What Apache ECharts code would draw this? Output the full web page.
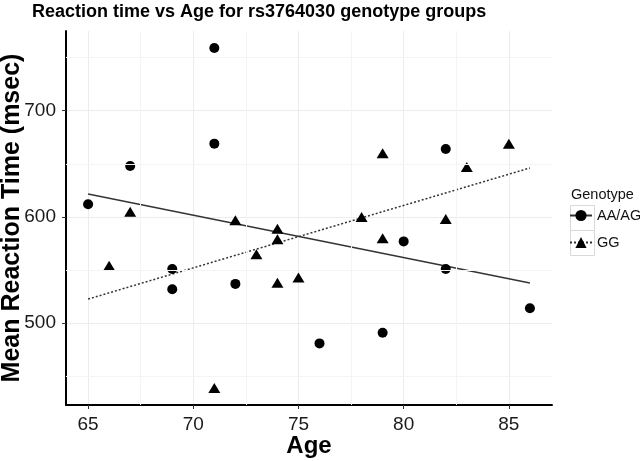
<!DOCTYPE html>
<html>
<head>
<meta charset="utf-8">
<script src="https://cdn.jsdelivr.net/npm/echarts@6/dist/echarts.min.js"></script>
<style>
  html, body { margin: 0; padding: 0; background: #fff; }
  #chart { width: 640px; height: 461px; }
</style>
</head>
<body>
<div id="chart"></div>
<script>
// AA/AG genotype group
const agesAA = [65, 67, 69, 69, 71, 71, 72, 76, 79, 80, 82, 82, 86]
const rtAA = [612, 648, 551, 532, 759, 669, 537, 481, 491, 577, 664, 551, 514]

// GG genotype group
const agesGG = [66, 67, 71, 72, 73, 74, 74, 74, 75, 78, 79, 79, 82, 83, 85]
const rtGG = [554, 605, 439, 597, 565, 589, 579, 538, 543, 600, 660, 580, 598, 647, 669]

// tick labels
const xTicks = [65, 70, 75, 80, 85]
const yTicks = [500, 600, 700]
const xMinor = [67.5, 72.5, 77.5, 82.5]
const yMinor = [450, 550, 650, 750]

const FONT = 'Liberation Sans, Arial, sans-serif'

// least squares fit over the full age range (like geom_smooth(method = lm, fullrange = TRUE))
const fitLine = (xs, ys, x0, x1) => {
  const n = xs.length
  const mx = xs.reduce((a, b) => a + b, 0) / n
  const my = ys.reduce((a, b) => a + b, 0) / n
  let sxy = 0, sxx = 0
  for (let i = 0; i < n; i++) {
    sxy += (xs[i] - mx) * (ys[i] - my)
    sxx += (xs[i] - mx) * (xs[i] - mx)
  }
  const b = sxy / sxx
  return [[x0, my + b * (x0 - mx)], [x1, my + b * (x1 - mx)]]
}

const allAges = agesAA.concat(agesGG)
const allRt = rtAA.concat(rtGG)
const ageLo = Math.min(...allAges), ageHi = Math.max(...allAges)
const rtLo = Math.min(...allRt), rtHi = Math.max(...allRt)
// ggplot style 5% expansion
const xPad = (ageHi - ageLo) * 0.05
const yPad = (rtHi - rtLo) * 0.05

const zip = (xs, ys) => xs.map((x, i) => [x, ys[i]])

const chart = echarts.init(document.getElementById('chart'))

const option = {
  animation: false,
  backgroundColor: '#fff',
  title: [
    {
      text: 'Reaction time vs Age for rs3764030 genotype groups',
      left: 32,
      top: 3,
      padding: 0,
      textStyle: { fontFamily: FONT, fontSize: 18, fontWeight: 'bold', color: '#000' }
    },
    {
      text: 'Genotype',
      left: 571,
      top: 187,
      padding: 0,
      textStyle: { fontFamily: FONT, fontSize: 14.5, fontWeight: 'normal', color: '#111' }
    }
  ],
  legend: {
    orient: 'vertical',
    left: 569,
    top: 208,
    padding: 0,
    itemWidth: 22,
    itemHeight: 14,
    itemGap: 12,
    selectedMode: false,
    data: ['AA/AG', 'GG'],
    textStyle: { fontFamily: FONT, fontSize: 14.5, color: '#111' }
  },
  graphic: [
    { type: 'rect', left: 568, top: 203, shape: { width: 24, height: 25 }, style: { fill: 'none', stroke: '#d9d9d9', lineWidth: 1 } },
    { type: 'rect', left: 568, top: 228, shape: { width: 24, height: 25 }, style: { fill: 'none', stroke: '#d9d9d9', lineWidth: 1 } }
  ],
  grid: { left: 66, right: 88, top: 31, bottom: 56, outerBoundsMode: 'none' },
  xAxis: {
    type: 'value',
    min: ageLo - xPad,
    max: ageHi + xPad,
    name: 'Age',
    nameLocation: 'middle',
    nameGap: 29,
    nameMoveOverlap: false,
    nameTextStyle: { fontFamily: FONT, fontSize: 24, fontWeight: 'bold', color: '#000' },
    axisLine: { show: true, onZero: false, lineStyle: { color: '#000', width: 2 } },
    axisTick: { show: true, length: 4, customValues: xTicks, lineStyle: { color: '#333', width: 1 } },
    axisLabel: { customValues: xTicks, margin: 10, fontFamily: FONT, fontSize: 19, color: '#1a1a1a' },
    splitLine: { show: true, lineStyle: { color: '#ececec', width: 1 } },
    minorTick: { show: false, splitNumber: 2 },
    minorSplitLine: { show: false }
  },
  yAxis: {
    type: 'value',
    min: rtLo - yPad,
    max: rtHi + yPad,
    name: 'Mean Reaction Time (msec)',
    nameLocation: 'middle',
    nameGap: 41,
    nameMoveOverlap: false,
    nameTextStyle: { fontFamily: FONT, fontSize: 25, fontWeight: 'bold', color: '#000' },
    axisLine: { show: true, onZero: false, lineStyle: { color: '#000', width: 2 } },
    axisTick: { show: true, length: 4, customValues: yTicks, lineStyle: { color: '#333', width: 1 } },
    axisLabel: { customValues: yTicks, margin: 10, fontFamily: FONT, fontSize: 19, color: '#1a1a1a' },
    splitLine: { show: true, lineStyle: { color: '#ececec', width: 1 } },
    minorTick: { show: false },
    minorSplitLine: { show: false }
  },
  series: [
    // fit lines first so the legend shows line + marker
    {
      name: 'AA/AG',
      type: 'line',
      data: fitLine(agesAA, rtAA, ageLo, ageHi),
      symbol: 'circle',
      showSymbol: false,
      silent: true,
      itemStyle: { color: '#000' },
      lineStyle: { color: '#333', width: 1.3, type: 'solid' },
      z: 2
    },
    {
      name: 'GG',
      type: 'line',
      data: fitLine(agesGG, rtGG, ageLo, ageHi),
      symbol: 'triangle',
      showSymbol: false,
      silent: true,
      itemStyle: { color: '#000' },
      lineStyle: { color: '#333', width: 1.5, type: [2, 2] },
      z: 2
    },
    {
      name: 'AA/AG',
      type: 'scatter',
      data: zip(agesAA, rtAA),
      symbol: 'circle',
      symbolSize: 10,
      itemStyle: { color: '#000', opacity: 1 },
      z: 3
    },
    {
      name: 'GG',
      type: 'scatter',
      data: zip(agesGG, rtGG),
      symbol: 'triangle',
      symbolSize: [12, 10],
      itemStyle: { color: '#000', opacity: 1 },
      z: 3
    },
    // faint minor grid lines (ggplot minor breaks)
    {
      type: 'line',
      silent: true,
      data: [],
      markLine: {
        silent: true,
        symbol: 'none',
        label: { show: false },
        lineStyle: { color: '#f4f4f4', width: 1, type: 'solid' },
        data: xMinor.map(v => ({ xAxis: v })).concat(yMinor.map(v => ({ yAxis: v })))
      },
      z: 0
    }
  ]
}

chart.setOption(option)
</script>
</body>
</html>
